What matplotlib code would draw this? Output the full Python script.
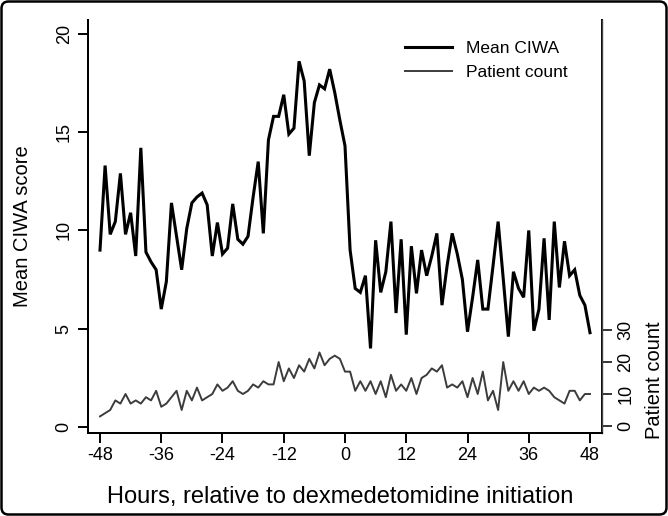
import numpy as np
import matplotlib
matplotlib.use("Agg")
import matplotlib.pyplot as plt
from matplotlib.patches import FancyBboxPatch
from matplotlib.transforms import IdentityTransform

plt.rcParams["font.family"] = ["Liberation Sans", "DejaVu Sans"]
plt.rcParams["axes.unicode_minus"] = False

# ── data (hourly, -48 .. 48) ────────────────────────────────────────────
hours = np.arange(-48, 49)

mean_ciwa = [
    9.0, 13.3, 9.8, 10.45, 12.9, 9.8, 10.9, 8.7, 14.2, 8.9,      # -48 .. -39
    8.4, 8.0, 6.0, 7.4, 11.4, 9.7, 8.0, 10.1, 11.4, 11.7,        # -38 .. -29
    11.9, 11.3, 8.7, 10.4, 8.8, 9.1, 11.35, 9.55, 9.3, 9.7,      # -28 .. -19
    11.7, 13.5, 9.85, 14.6, 15.8, 15.8, 16.9, 14.9, 15.2, 18.6,  # -18 .. -9
    17.6, 13.8, 16.5, 17.4, 17.2, 18.2, 17.0, 15.6, 14.3,        # -8 .. 0
    9.0, 7.05, 6.85, 7.7, 4.0, 9.5, 6.85, 7.9, 10.45, 5.8,       # 1 .. 10
    9.55, 4.7, 9.2, 6.8, 9.0, 7.7, 8.7, 9.85, 6.2, 8.2,          # 11 .. 20
    9.85, 8.8, 7.5, 4.85, 6.6, 8.5, 6.0, 6.0, 8.2, 10.45,        # 21 .. 30
    7.55, 4.6, 7.9, 7.05, 6.6, 10.0, 4.9, 6.0, 9.6, 5.45,        # 31 .. 40
    10.45, 7.1, 9.45, 7.7, 8.0, 6.7, 6.2, 4.8,                   # 41 .. 48
]

patient_count = [
    3, 4, 5, 8, 7, 10, 7, 8, 7, 9,           # -48 .. -39
    8, 11, 6, 7, 9, 11, 5, 11, 8, 12,        # -38 .. -29
    8, 9, 10, 13, 11, 12, 14, 11, 10, 11,    # -28 .. -19
    13, 12, 14, 13, 13, 20, 14, 18, 15, 19,  # -18 .. -9
    17, 21, 18, 23, 19, 21, 22, 21, 17,      # -8 .. 0
    17, 11, 14, 11, 14, 10, 14, 9, 16, 11,   # 1 .. 10
    13, 11, 15, 10, 15, 16, 18, 17, 19, 12,  # 11 .. 20
    13, 12, 14, 9, 15, 10, 17, 8, 11, 5,     # 21 .. 30
    20, 11, 14, 11, 14, 10, 12, 11, 12, 11,  # 31 .. 40
    9, 8, 7, 11, 11, 8, 10, 10,              # 41 .. 48
]

x_ticks = [-48, -36, -24, -12, 0, 12, 24, 36, 48]
ciwa_ticks = [0, 5, 10, 15, 20]
count_ticks = [0, 10, 20, 30]

# ── figure ───────────────────────────────────────────────────────────────
fig = plt.figure(figsize=(6.68, 5.16), dpi=100)
ax = fig.add_axes([88 / 668, 1 - 433 / 516, 514 / 668, 413 / 516])
ax2 = ax.twinx()

ax.plot(hours, mean_ciwa, color="black", lw=2.2, solid_joinstyle="miter",
        label="Mean CIWA", zorder=3)
ax2.plot(hours, patient_count, color="#3c3c3c", lw=1.4, label="Patient count")

ax.set_xlim(-50.35, 50.35)
ax.set_ylim(-0.3, 20.7)
ax2.set_ylim(-2.2, 127)

ax.set_xticks(x_ticks)
ax.set_yticks(ciwa_ticks)
ax2.set_yticks(count_ticks)

for a in (ax, ax2):
    a.spines["top"].set_visible(False)
    for s in a.spines.values():
        s.set_linewidth(1.4)
        s.set_color("black")
ax2.spines["right"].set_color("#444444")
ax2.spines["right"].set_linewidth(1.0)

ax.tick_params(axis="x", length=7, width=1.4, labelsize=13, pad=3)
ax.tick_params(axis="y", length=7, width=1.4, labelsize=13, pad=4)
ax2.tick_params(axis="y", length=7, width=1.1, labelsize=13, pad=4)
for lbl in ax.get_yticklabels() + ax2.get_yticklabels():
    lbl.set_rotation(90)
    lbl.set_va("center")

ax.set_xlabel("Hours, relative to dexmedetomidine initiation", fontsize=17)
ax.set_ylabel("Mean CIWA score", fontsize=14.5)
ax2.set_ylabel("Patient count", fontsize=14.5)
ax.xaxis.set_label_coords(0.49, -0.128)
ax.yaxis.set_label_coords(-0.108, 0.5)
ax2.yaxis.set_label_coords(1.084, 0.128)

h1, l1 = ax.get_legend_handles_labels()
h2, l2 = ax2.get_legend_handles_labels()
ax.legend(h1 + h2, l1 + l2, loc="upper left", frameon=False, fontsize=12.5,
          bbox_to_anchor=(405 / 668, 1 - 41 / 516), bbox_transform=fig.transFigure,
          borderpad=0, borderaxespad=0, handlelength=2.7, handletextpad=0.8,
          labelspacing=0.5)

# outer rounded frame around the whole graph
fig.patches.append(FancyBboxPatch((1.5, 1.5), 665, 513,
                                  boxstyle="round,pad=0,rounding_size=7",
                                  transform=IdentityTransform(), fill=False,
                                  edgecolor="black", linewidth=1.8))

fig.savefig("out.png", dpi=100)
